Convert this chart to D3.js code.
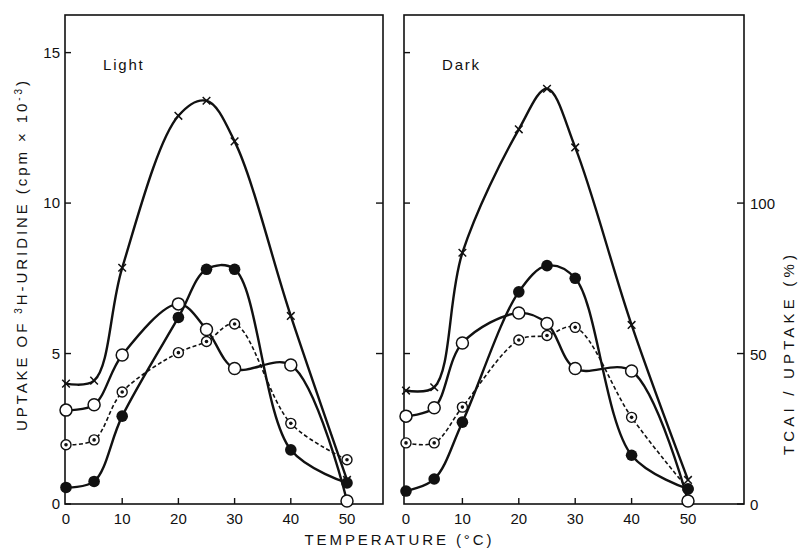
<!DOCTYPE html>
<html lang="en">
<head>
<meta charset="UTF-8">
<title>Uptake of 3H-uridine vs temperature</title>
<script src="https://d3js.org/d3.v7.min.js"></script>
<style>
    body { margin: 0; background: #fff; }
    svg text { font-family: "Liberation Sans", "DejaVu Sans", sans-serif; fill: #111; }
    .frame { fill: none; stroke: #111; stroke-width: 1.6; }
    .tick { stroke: #111; stroke-width: 1.4; }
    .line { fill: none; stroke: #111; stroke-width: 2.4; }
    .line.dashed { stroke-width: 1.6; stroke-dasharray: 4 2.5; }
</style>
</head>
<body>
<script>
    // temperatures (°C)
    const temps = [0, 5, 10, 20, 25, 30, 40, 50];
    const xTicks = [0, 10, 20, 30, 40, 50];
    const yTicks = [0, 5, 10, 15];
    const pctTicks = [0, 50, 100];

    // Light panel, uptake (cpm x 10^-3)
    const lightCross  = [4.0, 4.1, 7.85, 12.9, 13.4, 12.05, 6.25, 0.8];
    const lightOpen   = [3.12, 3.3, 4.95, 6.65, 5.8, 4.5, 4.62, 0.1];
    const lightDotted = [1.97, 2.13, 3.72, 5.03, 5.4, 5.98, 2.68, 1.47];
    const lightFilled = [0.55, 0.75, 2.92, 6.2, 7.8, 7.8, 1.8, 0.7];

    // Dark panel
    const darkCross  = [3.77, 3.88, 8.35, 12.45, 13.8, 11.85, 5.95, 0.8];
    const darkOpen   = [2.92, 3.2, 5.35, 6.35, 6.0, 4.5, 4.42, 0.1];
    const darkDotted = [2.03, 2.03, 3.22, 5.45, 5.6, 5.87, 2.88, 0.5];
    const darkFilled = [0.43, 0.83, 2.72, 7.05, 7.92, 7.5, 1.62, 0.5];

    const W = 804, H = 551;
    const plotTop = 15, plotBottom = 504;

    const svg = d3.select("body").append("svg")
        .attr("width", W)
        .attr("height", H);

    const y = d3.scaleLinear().domain([0, 16.25]).range([plotBottom, plotTop]);
    const yPct = d3.scaleLinear().domain([0, 162.5]).range([plotBottom, plotTop]);

    const line = (x) => d3.line()
        .curve(d3.curveCatmullRom.alpha(0.5))
        .x((d, i) => x(temps[i]))
        .y(d => y(d));

    function drawPanel(p) {
        const g = svg.append("g");
        const x = d3.scaleLinear().domain([0, 50]).range(p.xRange);

        g.append("rect").classed("frame", true)
            .attr("x", p.left).attr("y", plotTop)
            .attr("width", p.right - p.left).attr("height", plotBottom - plotTop);

        // inward x ticks
        g.selectAll(".xt").data(xTicks.slice(1, -1)).enter()
            .append("line").classed("tick", true)
            .attr("x1", d => x(d)).attr("x2", d => x(d))
            .attr("y1", plotBottom).attr("y2", plotBottom - 6);

        g.selectAll(".xl").data(xTicks).enter()
            .append("text")
            .attr("x", d => x(d)).attr("y", plotBottom + 20)
            .attr("text-anchor", "middle")
            .style("font-size", "15px")
            .text(d => d);

        // inward y ticks on both sides
        g.selectAll(".yt").data(p.leftTicks).enter()
            .append("line").classed("tick", true)
            .attr("x1", p.left).attr("x2", p.left + 6)
            .attr("y1", d => y(d)).attr("y2", d => y(d));
        g.selectAll(".yr").data(p.rightTicks).enter()
            .append("line").classed("tick", true)
            .attr("x1", p.right).attr("x2", p.right - 7)
            .attr("y1", d => p.rightScale(d)).attr("y2", d => p.rightScale(d));

        g.append("text")
            .attr("x", p.left + 38).attr("y", plotTop + 55)
            .style("font-size", "15px")
            .style("letter-spacing", "1.8px")
            .text(p.title);

        const lg = g.append("g");
        const mg = g.append("g");

        // crosses
        lg.append("path").classed("line", true).attr("d", line(x)(p.cross));
        mg.selectAll(".cross").data(p.cross).enter()
            .append("path")
            .attr("d", (d, i) => {
                const cx = x(temps[i]), cy = y(d), s = 3.8;
                return `M${cx - s},${cy - s}L${cx + s},${cy + s}M${cx + s},${cy - s}L${cx - s},${cy + s}`;
            })
            .attr("stroke", "#111").attr("stroke-width", 1.5);

        // open circles
        lg.append("path").classed("line", true).attr("d", line(x)(p.open));
        // dotted circles (dashed line)
        lg.append("path").classed("line dashed", true).attr("d", line(x)(p.dotted));
        // filled circles
        lg.append("path").classed("line", true).attr("d", line(x)(p.filled));

        mg.selectAll(".dotted").data(p.dotted).enter()
            .append("circle")
            .attr("cx", (d, i) => x(temps[i])).attr("cy", d => y(d))
            .attr("r", 5.0).attr("fill", "#fff")
            .attr("stroke", "#111").attr("stroke-width", 1.4);
        mg.selectAll(".dot").data(p.dotted).enter()
            .append("circle")
            .attr("cx", (d, i) => x(temps[i])).attr("cy", d => y(d))
            .attr("r", 1.8).attr("fill", "#111");

        mg.selectAll(".filled").data(p.filled).enter()
            .append("circle")
            .attr("cx", (d, i) => x(temps[i])).attr("cy", d => y(d))
            .attr("r", 5.8).attr("fill", "#111");

        mg.selectAll(".open").data(p.open).enter()
            .append("circle")
            .attr("cx", (d, i) => x(temps[i])).attr("cy", d => y(d))
            .attr("r", 6).attr("fill", "#fff")
            .attr("stroke", "#111").attr("stroke-width", 1.5);

        return x;
    }

    drawPanel({
        left: 65, right: 383, xRange: [66, 347], title: "Light",
        leftTicks: yTicks, rightTicks: [5, 10], rightScale: y,
        cross: lightCross, open: lightOpen, dotted: lightDotted, filled: lightFilled
    });
    drawPanel({
        left: 404, right: 744, xRange: [406, 688], title: "Dark",
        leftTicks: [5, 10, 15], rightTicks: pctTicks, rightScale: yPct,
        cross: darkCross, open: darkOpen, dotted: darkDotted, filled: darkFilled
    });

    // left axis labels
    svg.selectAll(".yl").data(yTicks).enter()
        .append("text")
        .attr("x", 60).attr("y", d => y(d) + 5)
        .attr("text-anchor", "end")
        .style("font-size", "15px")
        .text(d => d);

    // right axis labels (%)
    svg.selectAll(".pl").data(pctTicks).enter()
        .append("text")
        .attr("x", 750).attr("y", d => yPct(d) + 6)
        .style("font-size", "15px")
        .text(d => d);

    // axis titles
    svg.append("text")
        .attr("x", 398).attr("y", 545)
        .attr("text-anchor", "middle")
        .attr("textLength", 187).attr("lengthAdjust", "spacing")
        .style("font-size", "15px")
        .text("TEMPERATURE (°C)");

    const yTitle = svg.append("text")
        .attr("transform", "translate(27,256) rotate(-90)")
        .attr("text-anchor", "middle")
        .attr("textLength", 350).attr("lengthAdjust", "spacing")
        .style("font-size", "15px");
    yTitle.append("tspan").text("UPTAKE  OF  ");
    yTitle.append("tspan").attr("dy", -5).style("font-size", "10px").text("3");
    yTitle.append("tspan").attr("dy", 5).text("H-URIDINE  (cpm × 10");
    yTitle.append("tspan").attr("dy", -5).style("font-size", "10px").text("-3");
    yTitle.append("tspan").attr("dy", 5).text(")");

    svg.append("text")
        .attr("transform", "translate(794,355) rotate(-90)")
        .attr("text-anchor", "middle")
        .attr("textLength", 200).attr("lengthAdjust", "spacing")
        .style("font-size", "15px")
        .text("TCAI / UPTAKE   (%)");
</script>
</body>
</html>
